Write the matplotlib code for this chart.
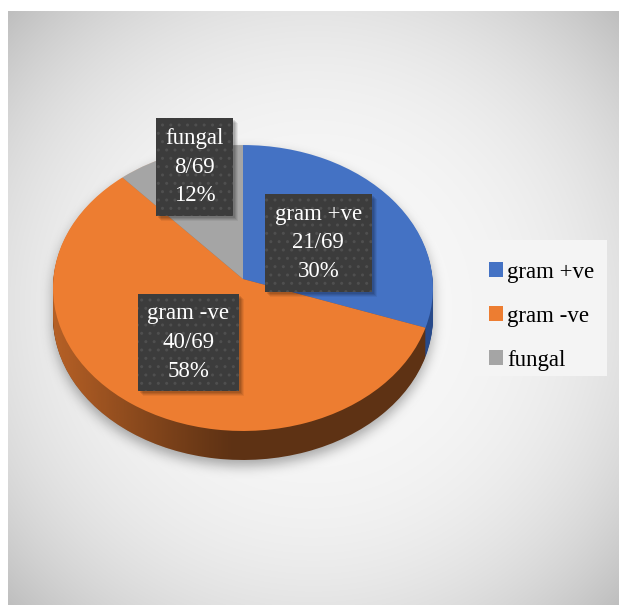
import numpy as np
import matplotlib
matplotlib.use('Agg')
import matplotlib.pyplot as plt
from matplotlib.path import Path
from matplotlib.patches import Rectangle
from matplotlib.transforms import Transform, Affine2D, IdentityTransform

# ---------------- data ----------------
categories = ['gram +ve', 'gram -ve', 'fungal']
counts = [21, 40, 8]
total = 69
percents = [30, 58, 12]

# ---------------- style ----------------
top_colors = ['#4472C4', '#ED7D31', '#A5A5A5']
side_colors = ['#284A8A', '#5E3214', '#6B6B6B']
label_radius = [0.48, 0.516, 0.87]
label_dtheta = [-2.6, 0.9, -2.8]

plt.rcParams['font.family'] = ['Liberation Serif', 'DejaVu Serif']

W, H, DPI = 619, 611, 100
fig = plt.figure(figsize=(W / DPI, H / DPI), dpi=DPI)
fig.patch.set_facecolor('white')

# ---------------- background (radial gradient) ----------------
bx0, by0, bx1, by1 = 8, 11, 619, 605
bg = fig.add_axes([bx0 / W, 1 - by1 / H, (bx1 - bx0) / W, (by1 - by0) / H], zorder=0)
bg.set_axis_off()
gy, gx = np.mgrid[by0:by1, bx0:bx1]
rr = np.hypot(gx - 313, gy - 308)
v = np.clip((248 - 52 * (rr / 411) ** 3) / 255, 0, 1)
bg.imshow(np.dstack([v, v, v]), aspect='auto', extent=(0, 1, 0, 1), interpolation='bilinear')
bg.set_xlim(0, 1)
bg.set_ylim(0, 1)

# ---------------- pie axes ----------------
CX, CY = 243, 279        # pie centre in pixels (top-down)
A, B = 142.4, 189.6      # vertical / horizontal pixel scale
K = 0.063                # perspective strength
DEPTH = 29               # thickness in pixels

ax = fig.add_axes([0, 0, 1, 1], zorder=1)
ax.patch.set_alpha(0)


class Persp(Transform):
    input_dims = output_dims = 2
    is_separable = False
    has_inverse = False

    def __init__(self, k):
        super().__init__()
        self.k = k

    def transform_non_affine(self, values):
        values = np.asarray(values, dtype=float)
        x, y = values[:, 0], values[:, 1]
        w = 1 + self.k * y
        return np.column_stack([x / w, y / w])


persp = Persp(K)


def set_limits():
    ax.set_aspect('auto')
    ax.set_xlim(-CX / B, (W - CX) / B)
    ax.set_ylim(-(H - CY) / A, CY / A)
    ax.set_axis_off()


def draw_pie(colors, shift_px, z):
    wedges, _ = ax.pie(counts, colors=colors, startangle=90, counterclock=False,
                       radius=1, center=(0, 0), frame=True,
                       wedgeprops=dict(linewidth=0, antialiased=True))
    tr = persp + Affine2D().translate(0, -shift_px / A) + ax.transData
    for w in wedges:
        w.set_transform(tr)
        w.set_zorder(z)
    return wedges


for s in range(DEPTH, 0, -1):
    draw_pie(side_colors, s, 2)
top_wedges = draw_pie(top_colors, 0, 4)
set_limits()

# hull of the pie body (data coords)
phi0 = np.arcsin(-K)
t_up = np.linspace(phi0, np.pi - phi0, 200)
t_dn = np.linspace(np.pi - phi0, 2 * np.pi + phi0, 200)
up = persp.transform(np.column_stack([np.cos(t_up), np.sin(t_up)]))
dn = persp.transform(np.column_stack([np.cos(t_dn), np.sin(t_dn)])) - [0, DEPTH / A]
hull = np.vstack([up, dn, up[:1]])
hull_path = Path(hull, closed=True)

# side lighting gradient
xl = np.linspace(-1.05, 1.05, 400)
alpha = 0.62 * np.clip((-0.05 - xl) / 0.95, 0, 1) ** 1.1
grad = np.zeros((2, xl.size, 4))
grad[..., :3] = np.array([0xED, 0x7D, 0x31]) / 255
grad[..., 3] = alpha
ylo, yhi = dn[:, 1].min() - 0.02, up[:, 1].max() + 0.02
im = ax.imshow(grad, aspect='auto', extent=(-1.05, 1.05, ylo, yhi), zorder=3,
               interpolation='bilinear')
im.set_clip_path(hull_path, transform=ax.transData)

# soft outer shadow
disp_hull = Path(ax.transData.transform(hull), closed=True)
jj, ii = np.meshgrid(np.arange(W) + 0.5, np.arange(H) + 0.5)
pts = np.column_stack([jj.ravel(), (H - ii).ravel()])
mask = disp_hull.contains_points(pts).reshape(H, W).astype(float)
sig = 6.0
kx = np.arange(-20, 21)
ker = np.exp(-kx ** 2 / (2 * sig ** 2))
ker /= ker.sum()
blur = np.apply_along_axis(lambda r: np.convolve(r, ker, mode='same'), 1, mask)
blur = np.apply_along_axis(lambda c: np.convolve(c, ker, mode='same'), 0, blur)
blur = np.roll(blur, 6, axis=0)
sh = np.zeros((H, W, 4))
sh[..., 3] = 0.32 * blur
x0l, x1l = ax.get_xlim()
y0l, y1l = ax.get_ylim()
ax.imshow(sh, aspect='auto', extent=(x0l, x1l, y0l, y1l), zorder=1, interpolation='bilinear')
set_limits()

# ---------------- data labels ----------------
label_texts = []
for i, w in enumerate(top_wedges):
    mid = np.deg2rad((w.theta1 + w.theta2) / 2 + label_dtheta[i])
    p = persp.transform(np.array([[label_radius[i] * np.cos(mid), label_radius[i] * np.sin(mid)]]))[0]
    txt = f"{categories[i]}\n{counts[i]}/{total}\n{percents[i]}%"
    t = ax.text(p[0], p[1], txt, ha='center', va='center', color='white', fontsize=16.5,
                linespacing=1.48, zorder=6,
                bbox=dict(boxstyle='square,pad=0.42', facecolor='#3c3c3c', edgecolor='#4f4f4f',
                          linewidth=0, hatch='..'))
    label_texts.append(t)

# ---------------- legend ----------------
leg_bg = Rectangle((475 / W, 1 - 376 / H), (607 - 475) / W, (376 - 240) / H,
                   transform=fig.transFigure, facecolor='#f4f4f4', edgecolor='none', zorder=1.5)
fig.add_artist(leg_bg)
leg = fig.legend(top_wedges, categories, loc='upper left', bbox_to_anchor=(475 / W, 1 - 248 / H),
                 frameon=False, prop=dict(family='Liberation Serif', size=16.5),
                 handlelength=0.6, handleheight=0.6, handletextpad=0.2, labelspacing=1.0,
                 borderpad=0.6, borderaxespad=0)
leg.set_zorder(2)

# soft shadows behind the label boxes
fig.canvas.draw()
for t in label_texts:
    bb = t.get_bbox_patch().get_window_extent()
    for off, a in [(2, 0.10), (3, 0.09), (4, 0.08), (5, 0.06)]:
        ax.add_patch(Rectangle((bb.x0 + off, bb.y0 - off), bb.width, bb.height,
                               transform=IdentityTransform(), facecolor='black', alpha=a,
                               edgecolor='none', zorder=5))

fig.savefig('out.png', dpi=DPI, facecolor='white')
